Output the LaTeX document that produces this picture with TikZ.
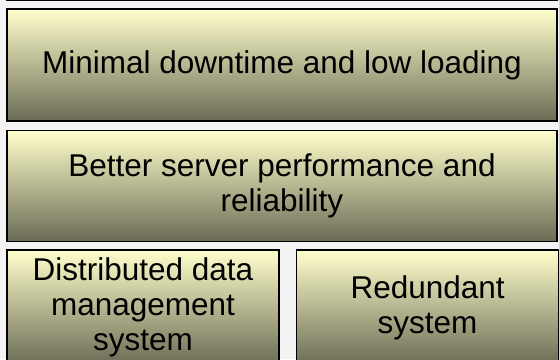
\documentclass[tikz,border=0pt]{standalone}
\usepackage{fontspec}
\setmainfont{Liberation Sans}
\usetikzlibrary{positioning}
\definecolor{boxtop}{HTML}{FFFFCC}
\definecolor{boxbot}{HTML}{6B6B55}
\definecolor{paper}{HTML}{F3F3F3}
\tikzset{
    tier/.style={
           rectangle,
           draw=black, line width=1.6pt,
           top color=boxtop, bottom color=boxbot,
           inner sep=2pt,
           align=center,
           font=\fontsize{31.5}{35}\selectfont,
           },
}

\begin{document}
\begin{tikzpicture}[x=1pt,y=1pt]
\useasboundingbox (0,0) rectangle (559,-359);
\clip (0,0) rectangle (559,-359);
\fill[paper] (0,0) rectangle (559,-359);
\node[tier,minimum width=550pt,minimum height=112pt](loading) at (282,-65){Minimal downtime and low loading};
\node[tier,minimum width=550pt,minimum height=60pt,above=7pt of loading](above){};
\node[tier,minimum width=550pt,minimum height=111pt,below=8pt of loading](server){Better server performance and\\reliability};
\node[tier,minimum width=272pt,minimum height=115pt,below right=7pt and 0pt of server.south west](dist){Distributed data\\management\\system};
\node[tier,minimum width=262pt,minimum height=115pt,right=16pt of dist](redund){Redundant\\system};
\end{tikzpicture}
\end{document}
